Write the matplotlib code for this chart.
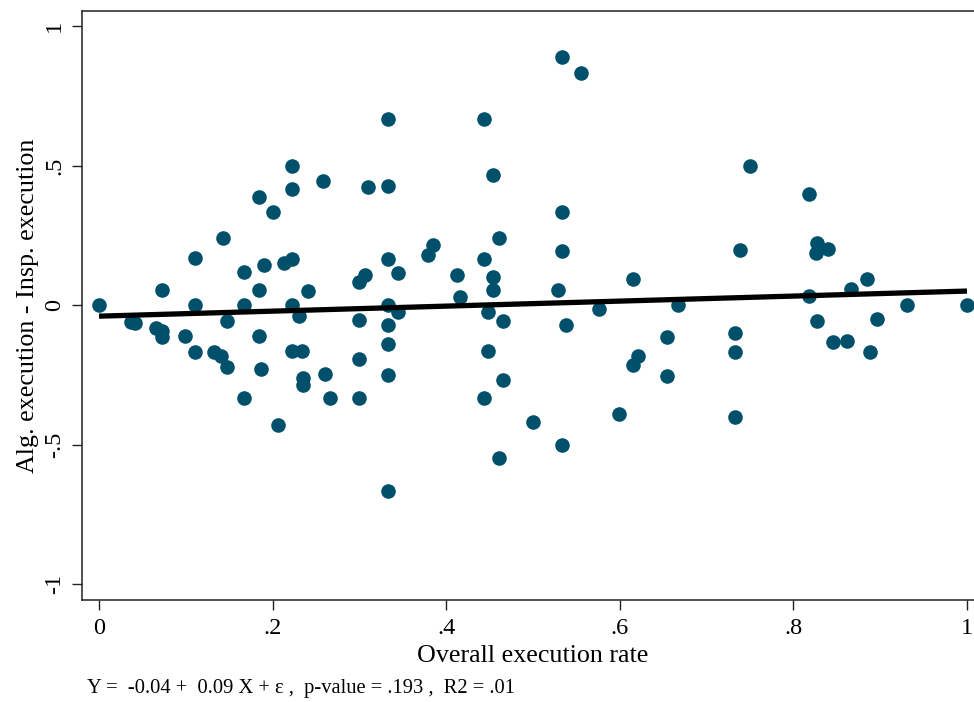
import matplotlib
matplotlib.use("Agg")
import matplotlib.pyplot as plt
import numpy as np

# overall execution rate (x) and algorithm minus inspector execution (y)
exec_rate = [
    0.0, 0.037, 0.042, 0.066, 0.072, 0.073, 0.073, 0.099, 0.111, 0.111,
    0.111, 0.133, 0.141, 0.1425, 0.148, 0.148, 0.1667, 0.1667, 0.1667, 0.184,
    0.19, 0.184, 0.184, 0.187, 0.2, 0.2066, 0.2135, 0.222, 0.222, 0.222,
    0.222, 0.2304, 0.222, 0.2335, 0.2346, 0.2346, 0.241, 0.258, 0.26, 0.266,
    0.299, 0.307, 0.3095, 0.299, 0.299, 0.299, 0.3333, 0.3333, 0.3333, 0.3333,
    0.3333, 0.3333, 0.3333, 0.3333, 0.344, 0.344, 0.3786, 0.3844, 0.413, 0.416,
    0.444, 0.444, 0.444, 0.4477, 0.4477, 0.454, 0.454, 0.454, 0.461, 0.461,
    0.466, 0.466, 0.4996, 0.529, 0.533, 0.533, 0.533, 0.533, 0.538, 0.555,
    0.5765, 0.5995, 0.615, 0.615, 0.6206, 0.6547, 0.6547, 0.6667, 0.7327, 0.7327,
    0.7327, 0.7385, 0.75, 0.8176, 0.8176, 0.8268, 0.8257, 0.8395, 0.8268, 0.846,
    0.8618, 0.8664, 0.8844, 0.8886, 0.8963, 0.9305, 1.0,
]
exec_diff = [
    0.0, -0.06, -0.063, -0.084, -0.094, -0.114, 0.055, -0.111, 0.167, 0.0,
    -0.167, -0.167, -0.183, 0.241, -0.057, -0.222, 0.119, 0.0, -0.333, 0.388,
    0.142, 0.055, -0.111, -0.23, 0.333, -0.43, 0.149, 0.166, 0.5, 0.416,
    0.0, -0.039, -0.166, -0.166, -0.263, -0.287, 0.051, 0.443, -0.246, -0.333,
    0.0836, 0.1075, 0.422, -0.055, -0.195, -0.333, 0.667, 0.428, 0.165, 0.0,
    -0.073, -0.14, -0.25, -0.667, 0.114, -0.026, 0.179, 0.215, 0.109, 0.029,
    0.667, 0.166, -0.333, -0.026, -0.164, 0.466, 0.099, 0.054, 0.239, -0.55,
    -0.056, -0.269, -0.418, 0.055, 0.888, 0.332, 0.1935, -0.5, -0.073, 0.833,
    -0.013, -0.39, 0.094, -0.215, -0.182, -0.115, -0.253, 0.0, -0.099, -0.167,
    -0.4, 0.197, 0.5, 0.399, 0.033, 0.221, 0.1875, 0.2, -0.057, -0.131,
    -0.129, 0.056, 0.094, -0.167, -0.049, 0.0, 0.0,
]

# OLS fit reported in the note
intercept = -0.04
slope = 0.09
caption = "Y =  -0.04 +  0.09 X + \u03b5 ,  p-value = .193 ,  R2 = .01"

xticks = [0, 0.2, 0.4, 0.6, 0.8, 1.0]
xtick_labels = ["0", ".2", ".4", ".6", ".8", "1"]
yticks = [-1, -0.5, 0, 0.5, 1]
ytick_labels = ["-1", "-.5", "0", ".5", "1"]

plt.rcParams["font.family"] = ["Liberation Serif", "DejaVu Serif"]

fig = plt.figure(figsize=(9.74, 7.02), dpi=100)
# plot region runs slightly past the right edge of the canvas
ax = fig.add_axes([82 / 974, 102 / 702, 902 / 974, 589 / 702])

ax.plot(exec_rate, exec_diff, "o", color="#00506b", markersize=10.5,
        markeredgewidth=0, zorder=2)

fit_x = np.array([0.0, 1.0])
ax.plot(fit_x, intercept + slope * fit_x, color="black", linewidth=3.8,
        solid_capstyle="butt", zorder=3)

ax.set_xlim(-0.0196, 1.0196)
ax.set_ylim(-1.0573, 1.0538)

ax.set_xticks(xticks)
ax.set_xticklabels(xtick_labels)
ax.set_yticks(yticks)
ax.set_yticklabels(ytick_labels, rotation=90, va="center")

ax.tick_params(axis="both", direction="out", length=7, width=1.0,
               color="#222222", labelsize=17.5, pad=6)
ax.tick_params(axis="y", pad=5)

for side in ["left", "bottom", "top"]:
    ax.spines[side].set_color("#222222")
    ax.spines[side].set_linewidth(1.1)
ax.spines["right"].set_visible(False)

ax.set_xlabel("Overall execution rate", fontsize=18.7, labelpad=4.5)
ax.set_ylabel("Alg. execution - Insp. execution", fontsize=18.7, labelpad=4)

fig.text(87 / 974, 1 - 688 / 702, caption, fontsize=14.8, va="center",
         ha="left")

fig.savefig("out.png", dpi=100)
